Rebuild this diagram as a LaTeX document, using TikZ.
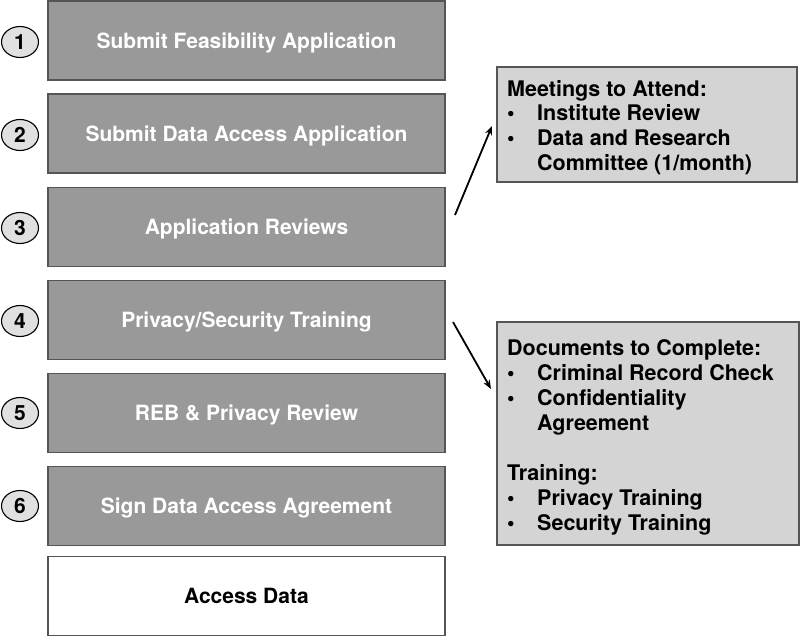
\documentclass[tikz,border=0pt]{standalone}
\usepackage{fontspec}
\setmainfont{TeX Gyre Heros}
\usetikzlibrary{arrows.meta,shapes.geometric}
\definecolor{stepgray}{HTML}{999999}
\definecolor{notegray}{HTML}{D4D4D4}
\definecolor{circgray}{HTML}{E0E0E0}
\definecolor{edgegray}{HTML}{555555}
\tikzset{
  stepbox/.style={draw=edgegray, line width=1.3pt, fill=stepgray, minimum width=397pt, minimum height=79pt, inner sep=0pt, text=white, text height=15pt, text depth=0pt, font=\fontsize{21pt}{25pt}\selectfont\bfseries},
  finalbox/.style={stepbox, fill=white, text=black},
  notebox/.style={draw=edgegray, line width=1.3pt, fill=notegray, inner sep=0pt},
  numcirc/.style={ellipse, draw=black, line width=1.1pt, fill=circgray, minimum width=37pt, minimum height=31pt, inner sep=0pt, font=\fontsize{21pt}{25pt}\selectfont\bfseries},
  notetxt/.style={anchor=base west, inner sep=0pt, font=\fontsize{21.5pt}{25pt}\selectfont\bfseries},
  conn/.style={line width=1.8pt, -{Stealth[length=9pt,width=7pt]}}
}
\begin{document}
\begin{tikzpicture}[x=1pt,y=-1pt]
\useasboundingbox (0,0) rectangle (800,637);
% left steps
\node[stepbox] (s1) at (246.5,40.5) {Submit Feasibility Application};
\node[stepbox] (s2) at (246.5,133.5) {Submit Data Access Application};
\node[stepbox] (s3) at (246.5,227) {Application Reviews};
\node[stepbox] (s4) at (246.5,320) {Privacy/Security Training};
\node[stepbox] (s5) at (246.5,413) {REB \& Privacy Review};
\node[stepbox] (s6) at (246.5,506) {Sign Data Access Agreement};
\node[finalbox] (s7) at (246.5,596) {Access Data};
% numbers
\node[numcirc] (c1) at (20,42) {1};
\node[numcirc] (c2) at (20,135) {2};
\node[numcirc] (c3) at (20,228) {3};
\node[numcirc] (c4) at (20,321) {4};
\node[numcirc] (c5) at (20,413) {5};
\node[numcirc] (c6) at (20,506) {6};
% note boxes
\node[notebox, minimum width=300pt, minimum height=115pt] (mb) at (647,124.5) {};
\node[notebox, minimum width=302pt, minimum height=223pt] (db) at (648,433.5) {};
% meetings text
\node[notetxt] (m0) at (507,96) {Meetings to Attend:};
\node[notetxt] (m1b) at (507,120) {•};
\node[notetxt] (m1) at (537,120) {Institute Review};
\node[notetxt] (m2b) at (507,145) {•};
\node[notetxt] (m2) at (537,145) {Data and Research};
\node[notetxt] (m3) at (537,170) {Committee (1/month)};
% documents text
\node[notetxt] (d0) at (507,355) {Documents to Complete:};
\node[notetxt] (d1b) at (507,380) {•};
\node[notetxt] (d1) at (537,380) {Criminal Record Check};
\node[notetxt] (d2b) at (507,405) {•};
\node[notetxt] (d2) at (537,405) {Confidentiality};
\node[notetxt] (d3) at (537,430) {Agreement};
\node[notetxt] (t0) at (507,480) {Training:};
\node[notetxt] (t1b) at (507,505) {•};
\node[notetxt] (t1) at (537,505) {Privacy Training};
\node[notetxt] (t2b) at (507,530) {•};
\node[notetxt] (t2) at (537,530) {Security Training};
% arrows
\coordinate (a1s) at (455,215);
\coordinate (a1e) at (492,126);
\coordinate (a2s) at (453,322);
\coordinate (a2e) at (491,389);
\draw[conn] (a1s) -- (a1e);
\draw[conn] (a2s) -- (a2e);
\end{tikzpicture}
\end{document}
